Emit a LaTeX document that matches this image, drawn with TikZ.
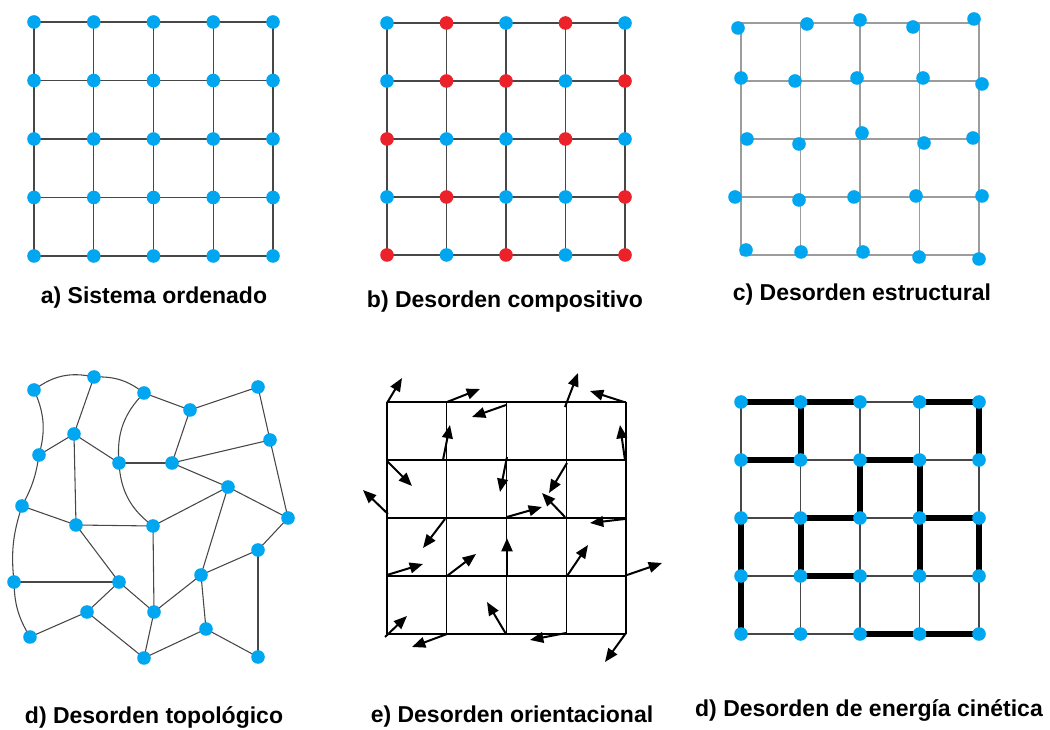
\documentclass[tikz,border=0pt]{standalone}
\usepackage{fontspec}
\setmainfont{Liberation Sans}
\usetikzlibrary{arrows.meta,backgrounds}
\definecolor{siteblue}{HTML}{00A6F0}
\definecolor{sitered}{HTML}{EB2229}
\definecolor{bondgray}{HTML}{474747}
\definecolor{gridgray}{HTML}{9C9C9C}

\begin{document}
\begin{tikzpicture}[x=0.75pt,y=-0.75pt,font=\fontsize{17.25}{20}\selectfont\bfseries,
    site/.style={circle,fill=siteblue,inner sep=0pt,minimum size=10.2pt},
    bond/.style={draw=bondgray,line width=0.8pt},
    lightbond/.style={draw=gridgray,line width=0.8pt},
    strongbond/.style={draw=black,line width=4.5pt},
    spin/.style={draw=black,line width=1.5pt,-{Triangle[length=10pt,width=8pt]}}]
  \useasboundingbox (0,0) rectangle (1050,730);

  % a) ordered lattice
  \foreach \i in {1,...,5}
    \foreach \j in {1,...,5}
      \node[site] (a-\i-\j) at ({34+59.75*(\i-1)},{22+58.5*(\j-1)}) {};
  \begin{scope}[on background layer]
    \foreach \i in {1,...,5} {
      \draw[bond] (a-\i-1.center) -- (a-\i-5.center);
      \draw[bond] (a-1-\i.center) -- (a-5-\i.center);
    }
  \end{scope}
  \node (capa) at (154,298) {a) Sistema ordenado};

  % b) two species
  \foreach \j/\row in {1/{blue,red,blue,red,blue},2/{blue,red,red,blue,red},
      3/{red,blue,blue,red,blue},4/{blue,red,blue,blue,red},5/{red,blue,red,blue,red}}
    \foreach \c [count=\i] in \row
      \node[site,fill=site\c] (b-\i-\j) at ({387+59.5*(\i-1)},{23+58*(\j-1)}) {};
  \begin{scope}[on background layer]
    \foreach \i in {1,...,5} {
      \draw[bond] (b-\i-1.center) -- (b-\i-5.center);
      \draw[bond] (b-1-\i.center) -- (b-5-\i.center);
    }
  \end{scope}
  \node (capb) at (505,302) {b) Desorden compositivo};

  % c) displaced sites
  \foreach \k in {0,...,4} {
    \draw[lightbond] ({741+59.5*\k},23) -- ({741+59.5*\k},255);
    \draw[lightbond] (741,{23+58*\k}) -- (979,{23+58*\k});
  }
  \foreach \x/\y [count=\n] in {738/28,807/24,860/20,913/27,974/19,
      741/78,795/81,857/78,923/78,982/84,
      747/139,799/144,862/133,924/143,973/138,
      735/197,799/200,854/197,916/196,982/196,
      746/250,801/252,863/252,919/257,979/259}
    \node[site] (c\n) at (\x,\y) {};
  \node (capc) at (862,295) {c) Desorden estructural};

  % d) network
  \foreach \n/\x/\y in {1/34/390,2/94/377,3/144/393,4/190/410,5/258/387,
      6/74/434,7/39/455,8/119/463,9/172/463,10/270/440,
      11/228/487,12/22/506,13/76/525,14/153/526,15/288/518,
      16/258/550,17/14/582,18/119/582,19/201/575,20/87/612,
      21/154/612,22/206/629,23/30/637,24/144/658,25/258/657}
    \node[site] (d\n) at (\x,\y) {};
  \begin{scope}[on background layer]
    \foreach \p/\q in {2/6,6/7,6/8,6/13,3/4,4/5,4/9,8/9,9/10,5/10,10/15,9/11,
        11/15,11/14,11/19,12/13,13/14,13/18,14/21,15/16,16/19,16/25,17/18,
        18/20,18/21,19/21,19/22,20/23,20/24,21/24,22/24,22/25}
      \draw[bond] (d\p.center) -- (d\q.center);
    \draw[bond] (d1.center) to[bend left=25] (d2.center);
    \draw[bond] (d2.center) to[bend left=20] (d3.center);
    \draw[bond] (d1.center) to[bend left=20] (d7.center);
    \draw[bond] (d7.center) to[bend left=10] (d12.center);
    \draw[bond] (d12.center) to[bend right=12] (d17.center);
    \draw[bond] (d17.center) to[bend right=15] (d23.center);
    \draw[bond] (d3.center) to[bend right=25] (d8.center);
    \draw[bond] (d8.center) to[bend right=25] (d14.center);
  \end{scope}
  \node (capd) at (154,718) {d) Desorden topológico};

  % e) orientations
  \foreach \k in {0,...,4} {
    \draw[draw=black,line width=0.8pt] ({387+59.75*\k},402) -- ({387+59.75*\k},634);
    \draw[draw=black,line width=0.8pt] (387,{402+58*\k}) -- (626,{402+58*\k});
  }
  \foreach \xa/\ya/\xb/\yb [count=\n] in {387/403/402/378,447/402/480/389,
      506/405/472/417,565/407/578/373,624/402/590/391,443/460/450/425,
      625/460/620/425,387/461/412/486,507/457/500/492,567/463/549/493,
      388/514/363/490,565/517/542/493,507/517/542/507,445/519/423/548,
      625/519/590/523,387/575/423/564,447/576/476/554,567/576/588/545,
      627/575/662/563,385/637/407/616,447/634/412/647,506/634/487/602,
      566/633/530/640,626/633/605/662} {
    \coordinate (e-s\n) at (\xa,\ya);
    \coordinate (e-t\n) at (\xb,\yb);
    \draw[spin] (e-s\n) -- (e-t\n);
  }
  \coordinate (e-s25) at (507,575);
  \coordinate (e-t25) at (507,538);
  \draw[spin,line width=2.2pt] (e-s25) -- (e-t25);
  \node (cape) at (512,717) {e) Desorden orientacional};

  % f) strong and weak bonds
  \foreach \i in {1,...,5}
    \foreach \j in {1,...,5}
      \node[site] (f-\i-\j) at ({741+59.5*(\i-1)},{402+58*(\j-1)}) {};
  \begin{scope}[on background layer]
    \foreach \i in {1,...,5} {
      \draw[bond] (f-\i-1.center) -- (f-\i-5.center);
      \draw[bond] (f-1-\i.center) -- (f-5-\i.center);
    }
    \foreach \p/\q in {1-1/2-1,2-1/3-1,4-1/5-1,1-2/2-2,3-2/4-2,2-3/3-3,4-3/5-3,
        2-4/3-4,3-5/4-5,4-5/5-5,1-3/1-4,1-4/1-5,2-1/2-2,2-3/2-4,3-2/3-3,
        4-2/4-3,4-3/4-4,5-1/5-2,5-3/5-4}
      \draw[strongbond] (f-\p.center) -- (f-\q.center);
  \end{scope}
  \node (capf) at (869,711) {d) Desorden de energía cinética};
\end{tikzpicture}
\end{document}
